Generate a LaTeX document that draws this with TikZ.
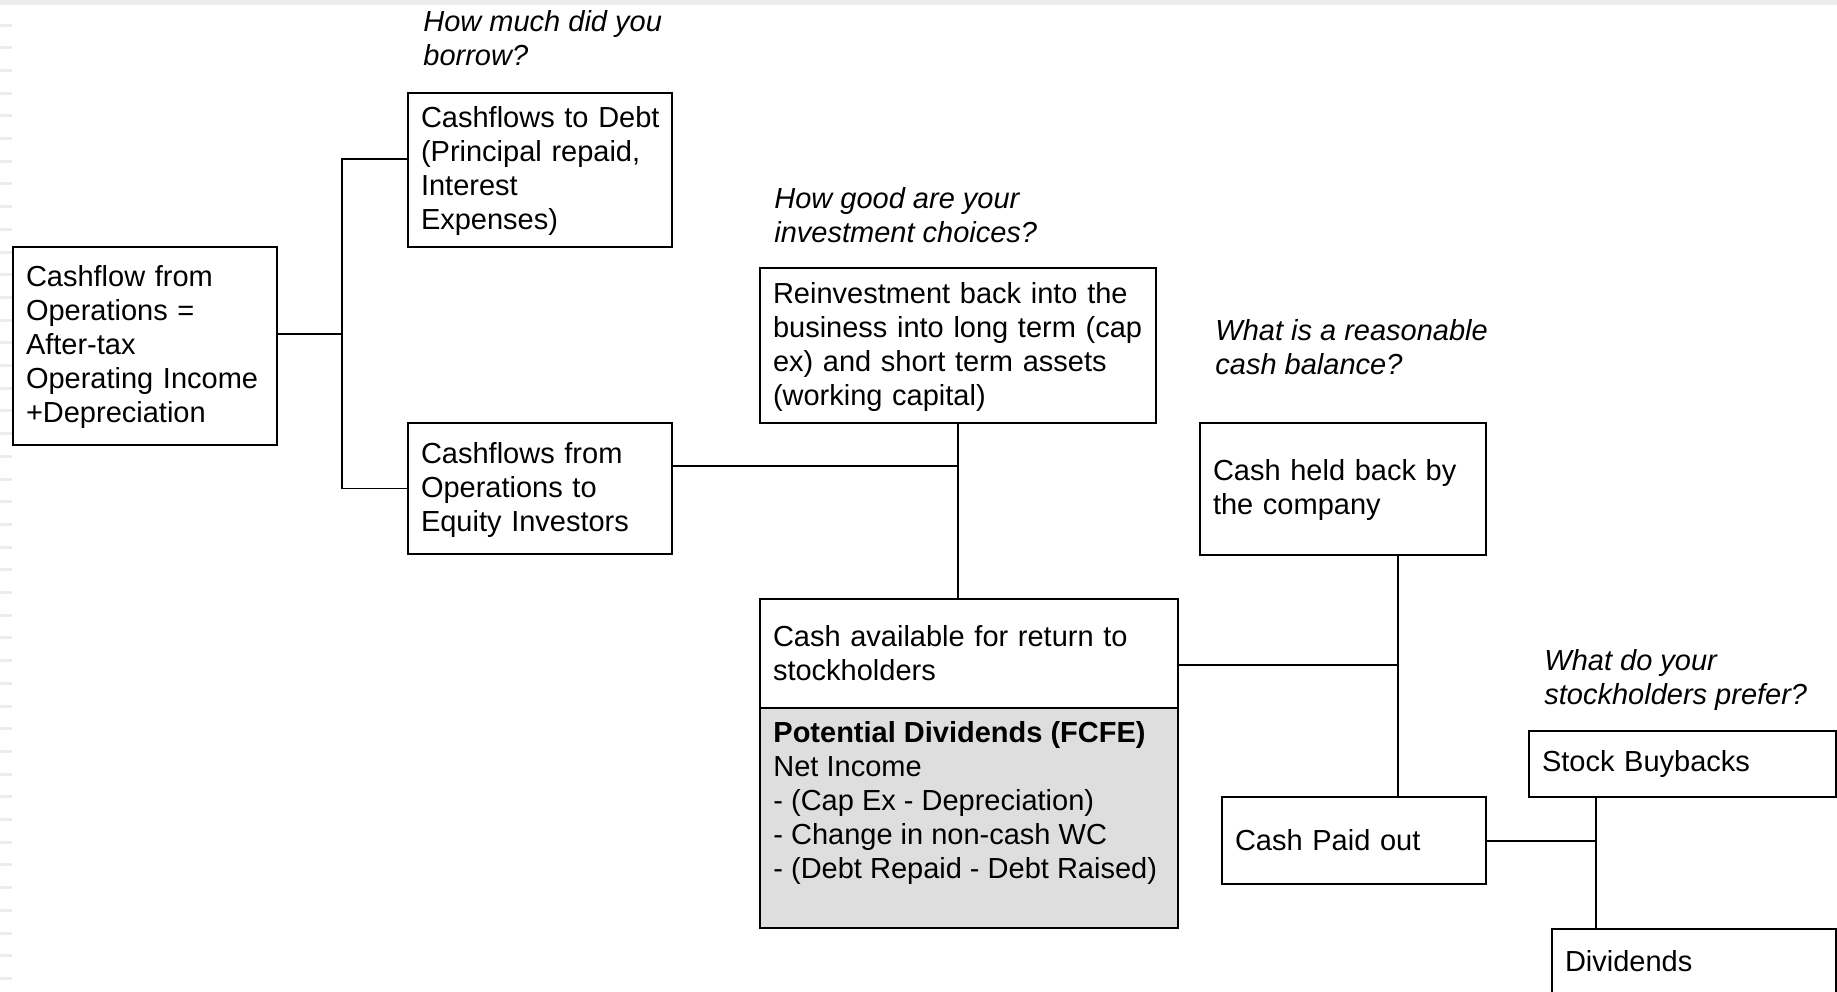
\documentclass[tikz,border=0pt]{standalone}
\usepackage{fontspec}
\setmainfont{Liberation Sans}
\newcommand{\bodyfont}{\fontsize{14.5pt}{17pt}\selectfont}
\definecolor{fcfegray}{RGB}{222,222,222}
\definecolor{edgegray}{RGB}{236,236,236}
\begin{document}
\begin{tikzpicture}[x=0.5pt,y=-0.5pt,
  box/.style={draw, line width=1.1pt, align=left, anchor=north west, inner xsep=6.5pt, inner ysep=2pt, outer sep=0pt, font=\bodyfont},
  link/.style={draw, line width=0.9pt},
  question/.style={anchor=north west, align=left, inner sep=0pt, font=\bodyfont\itshape}]
\fill[white] (0,0) rectangle (1837,991);
\path[use as bounding box] (0,0) rectangle (1837,991);
% page-edge artefacts
\fill[edgegray] (0,0) rectangle (1837,5);
\foreach \i in {0,...,42} \draw[edgegray, line width=1.5pt] (0,{25+22.7*\i}) -- (12,{25+22.7*\i});

% boxes
\node[box, minimum width=132pt, text width=119pt, minimum height=99pt] (cfo) at (13,247)
  {\rule{0pt}{12pt}Cashflow from\\Operations =\\After-tax\\Operating Income\\+Depreciation};
\node[box, minimum width=132pt, text width=119pt, minimum height=77pt] (debt) at (408,93)
  {\rule{0pt}{12pt}\mbox{Cashflows to Debt}\\(Principal repaid,\\Interest\\Expenses)};
\node[box, minimum width=132pt, text width=119pt, minimum height=65.5pt] (equity) at (408,423)
  {\rule{0pt}{12pt}Cashflows from\\Operations to\\Equity Investors};
\node[box, minimum width=198pt, text width=185pt, minimum height=77.5pt] (reinv) at (760,268)
  {\rule{0pt}{12pt}Reinvestment back into the\\\mbox{business into long term (cap}\\ex) and short term assets\\(working capital)};
\node[box, minimum width=209pt, text width=196pt, minimum height=54.5pt] (avail) at (760,599)
  {Cash available for return to\\stockholders};
\node[box, fill=fcfegray, minimum width=209pt, minimum height=110pt] (fcfe) at (760,708) {};
\node[anchor=north west, align=left, inner sep=0pt, font=\bodyfont] (fcfetext) at (773,721)
  {\textbf{Potential Dividends (FCFE)}\\Net Income\\- (Cap Ex - Depreciation)\\- Change in non-cash WC\\- (Debt Repaid - Debt Raised)};
\node[box, minimum width=143pt, text width=130pt, minimum height=66pt] (held) at (1200,423)
  {\rule{0pt}{11.5pt}Cash held back by\\the company};
\node[box, minimum width=132pt, text width=119pt, minimum height=43.5pt] (paid) at (1222,797)
  {Cash Paid out};
\node[box, minimum width=153.5pt, text width=140.5pt, minimum height=33pt] (buy) at (1529,731)
  {Stock Buybacks};
\node[box, minimum width=142pt, text width=129pt, minimum height=32pt] (div) at (1552,929)
  {Dividends};

% questions
\node[question] (q1) at (423,10) {How much did you\\borrow?};
\node[question] (q2) at (774,187) {How good are your\\investment choices?};
\node[question] (q3) at (1215,319) {What is a reasonable\\cash balance?};
\node[question] (q4) at (1544,649) {What do your\\stockholders prefer?};

% connectors
\coordinate (j1) at (342,334);
\coordinate (j1t) at (342,159);
\draw[link] (cfo.east |- j1) -- (j1);
\draw[link] (debt.west |- j1t) -| (j1) |- (equity.west);
\coordinate (j2) at (958,466);
\draw[link] (equity.east |- j2) -- (j2);
\draw[link] (reinv.south) -- (reinv.south |- avail.north);
\coordinate (j3) at (1398,665);
\draw[link] (avail.east |- j3) -- (j3);
\draw[link] (held.south -| j3) -- (paid.north -| j3);
\coordinate (j4) at (1596,841);
\draw[link] (paid.east |- j4) -- (j4);
\draw[link] (buy.south -| j4) -- (div.north -| j4);
\end{tikzpicture}
\end{document}
